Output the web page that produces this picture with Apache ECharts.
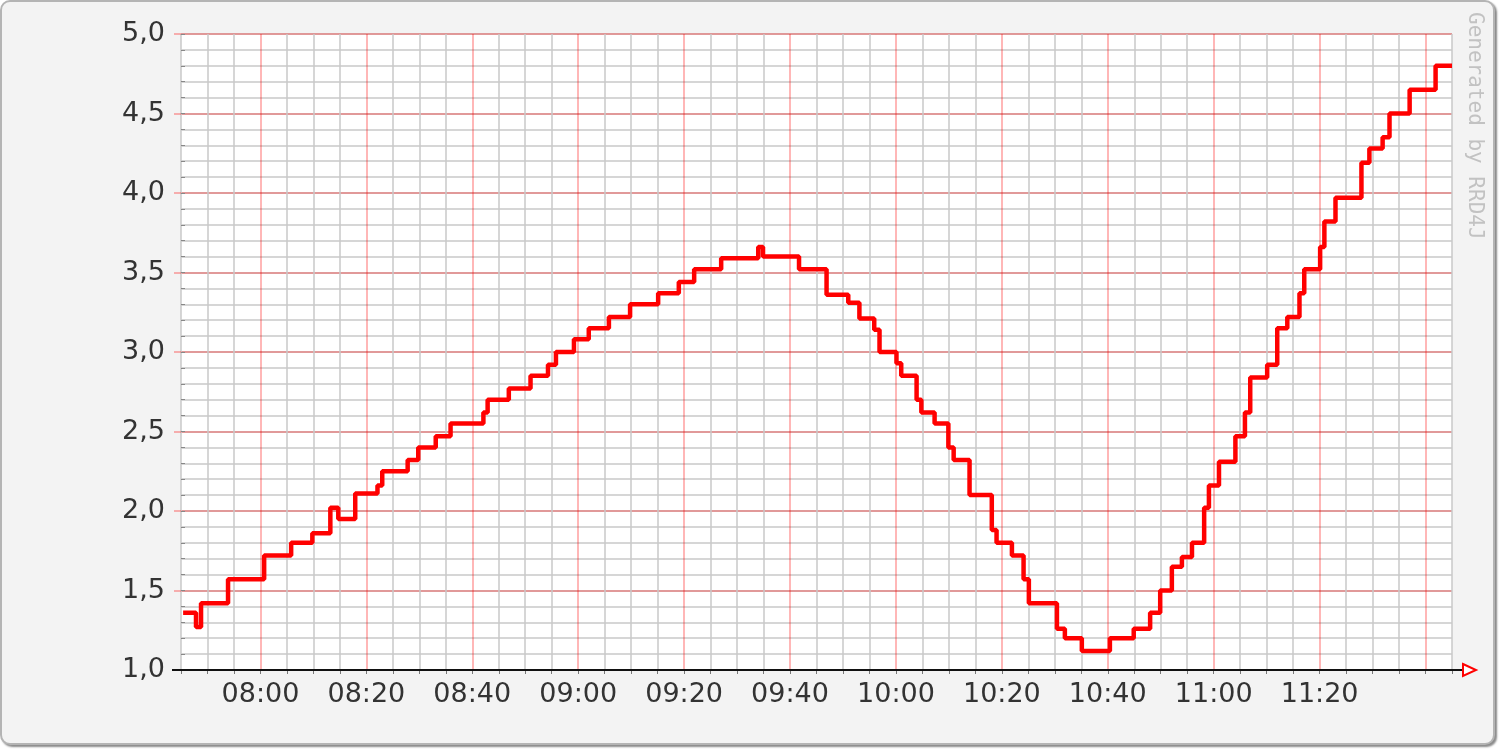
<!DOCTYPE html>
<html lang="en">
<head>
	<meta charset="UTF-8">
	<title>RRD4J graph</title>
	<style>
		html, body { margin: 0; padding: 0; background: #fff; }
		#frame { position: absolute; left: 0; top: 0; width: 1491px; height: 741px;
			border: 2px solid #b4b4b4; border-radius: 10px; background: #f3f3f3;
			box-shadow: 2px 2px 2px #8a8a8a; }
		#main { position: absolute; left: 0; top: 0; width: 1501px; height: 749px; }
	</style>
</head>
<body>
	<div id="frame"></div>
	<div id="main"></div>

<script src="https://cdn.jsdelivr.net/npm/echarts@6/dist/echarts.min.js"></script>
<script>
	// step start times and the value held from there on
	var stepTimes = ['07:45:24','07:47:50','07:48:47','07:53:53','08:00:42','08:05:48','08:09:48','08:13:12',
		'08:14:42','08:17:54','08:22:06','08:23:00','08:27:48','08:29:48','08:33:06','08:35:54',
		'08:42:06','08:42:54','08:46:54','08:51:00','08:54:18','08:55:48','08:59:12','09:02:00',
		'09:05:48','09:09:48','09:15:06','09:19:00','09:21:54','09:27:00','09:34:00','09:34:54',
		'09:41:42','09:46:54','09:51:00','09:53:06','09:55:54','09:56:54','10:00:06','10:01:00',
		'10:03:54','10:04:48','10:07:18','10:09:54','10:10:54','10:13:54','10:18:06','10:19:00',
		'10:21:54','10:24:06','10:25:06','10:30:24','10:31:54','10:35:06','10:40:24','10:44:54',
		'10:48:00','10:49:54','10:52:06','10:54:00','10:55:54','10:58:12','10:59:06','11:01:00',
		'11:04:06','11:05:54','11:06:54','11:10:06','11:12:00','11:13:54','11:16:12','11:17:06',
		'11:20:06','11:20:54','11:23:00','11:27:54','11:29:24','11:31:54','11:33:12','11:37:00',
		'11:41:54','11:45:00'];
	var stepValues = [1.36,1.27,1.42,1.57,1.72,1.80,1.86,2.02,
		1.95,2.11,2.16,2.25,2.32,2.40,2.47,2.55,
		2.62,2.70,2.77,2.85,2.92,3.00,3.08,3.15,
		3.22,3.30,3.37,3.44,3.52,3.59,3.66,3.60,
		3.52,3.36,3.31,3.21,3.14,3.00,2.93,2.85,
		2.70,2.62,2.55,2.40,2.32,2.10,1.88,1.80,
		1.72,1.57,1.42,1.26,1.20,1.12,1.20,1.26,
		1.36,1.50,1.65,1.71,1.80,2.02,2.16,2.31,
		2.47,2.62,2.84,2.92,3.15,3.22,3.37,3.52,
		3.66,3.82,3.97,4.19,4.28,4.35,4.50,4.65,
		4.80,4.80];

	var xStart = '07:45', xEnd = '11:45';
	var xTicks = ['08:00','08:20','08:40','09:00','09:20','09:40','10:00','10:20','10:40','11:00','11:20'];
	var yTicks = ['1,0','1,5','2,0','2,5','3,0','3,5','4,0','4,5','5,0'];

	function toMin(s) {
		var p = s.split(':');
		return (+p[0]) * 60 + (+p[1]) + (p[2] ? (+p[2]) / 60 : 0);
	}
	function pad(n) { return (n < 10 ? '0' : '') + n; }

	var seriesData = stepTimes.map(function (t, i) { return [toMin(t), stepValues[i]]; });

	var major = 'rgba(255,0,0,0.38)';
	var minor = '#c9c9c9';
	var labelFont = { color: '#333', fontSize: 27, fontFamily: 'DejaVu Sans' };

	var myChart = echarts.init(document.getElementById('main'));
	var option = {
		backgroundColor: 'transparent',
		animation: false,
		grid: { left: 181, right: 49, top: 34, bottom: 79, show: true, backgroundColor: '#fff', borderWidth: 0 },
		xAxis: {
			type: 'value',
			min: toMin(xStart),
			max: toMin(xEnd),
			interval: 5,
			axisLine: { show: true, lineStyle: { color: '#111', width: 2 } },
			axisTick: { show: true, length: 4, lineStyle: { color: '#777' } },
			axisLabel: Object.assign({
				margin: 11,
				formatter: function (v) {
					var m = Math.round(v);
					var s = pad(Math.floor(m / 60)) + ':' + pad(m % 60);
					return xTicks.indexOf(s) >= 0 ? s : '';
				}
			}, labelFont),
			// 07:45 is index 0, so every 4th line (08:00, 08:20 ...) is a major one
			splitLine: { show: true, lineStyle: { color: [minor, minor, minor, major], width: 1.5 } }
		},
		yAxis: [{
			type: 'value', min: 1, max: 5, interval: 0.1,
			axisLine: { show: false },
			axisTick: { show: true, inside: true, length: 4, lineStyle: { color: '#888' } },
			axisLabel: { show: false },
			splitLine: { show: true, lineStyle: { color: minor, width: 1.5 } }
		}, {
			type: 'value', min: 1, max: 5, interval: 0.5, position: 'left',
			axisLine: { show: false },
			axisTick: { show: true, length: 7, lineStyle: { color: major, width: 1.5 } },
			axisLabel: Object.assign({
				margin: 16,
				formatter: function (v) { return yTicks[Math.round((v - 1) * 2)]; }
			}, labelFont),
			splitLine: { show: true, lineStyle: { color: major, width: 1.5 } }
		}],
		graphic: [{
			type: 'text', right: 16, top: 12, rotation: -Math.PI / 2,
			style: { text: 'Generated by RRD4J', fill: '#c2c2c2', fontSize: 21, fontFamily: 'DejaVu Sans Mono' }
		}, {
			type: 'line', shape: { x1: 172, y1: 670, x2: 1462, y2: 670 },
			style: { stroke: '#111', lineWidth: 2 }, z: 20
		}, {
			type: 'polygon', shape: { points: [[1463, 664], [1476, 670], [1463, 676]] },
			style: { stroke: '#ff0000', fill: '#fff', lineWidth: 2 }, z: 21
		}],
		series: [{
			name: 'value',
			type: 'line',
			step: 'end',
			yAxisIndex: 0,
			showSymbol: false,
			data: seriesData,
			lineStyle: { color: '#ff0000', width: 4.5 },
			z: 10
		}]
	};
	myChart.setOption(option);
</script>
</body>
</html>
